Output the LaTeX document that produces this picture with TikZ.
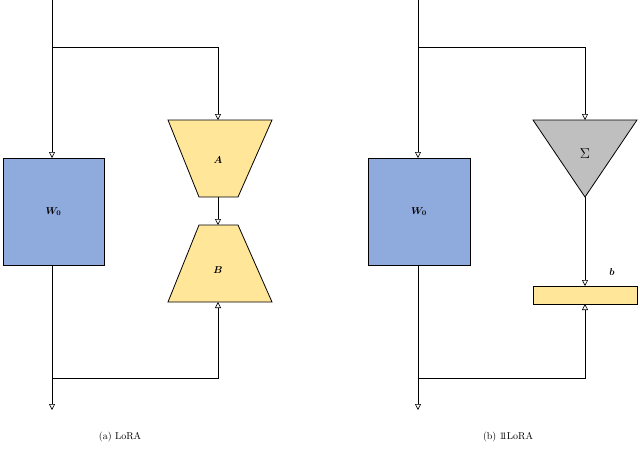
\documentclass[tikz,border=0pt]{standalone}
\usepackage{amsmath}
\usetikzlibrary{arrows.meta}
\definecolor{wblue}{HTML}{8FAADC}
\definecolor{ly}{HTML}{FFE699}
\definecolor{gr}{HTML}{BFBFBF}
\newcommand{\myone}{\mbox{1\kern-0.28em 1}}
\begin{document}
\begin{tikzpicture}[x=1pt,y=-1pt,
  box/.style={draw,line width=0.8pt},
  ar/.style={line width=0.6pt,-{Triangle[open,length=6pt,width=6pt]}},
  ln/.style={line width=0.6pt}]
\useasboundingbox (0,0) rectangle (640,453);
% left
\draw[box,fill=wblue] (3,158) rectangle (104,265);
\node (w1) at (53.5,211.5) {$\boldsymbol{W_0}$};
\draw[ar] (52,0) -- (52,158);
\draw[ar] (52,265) -- (52,410);
\draw[ar] (52,47) -- (218,47) -- (218,120);
\draw[box,fill=ly] (168,120) -- (272,120) -- (238,197) -- (199,197) -- cycle;
\node (A) at (218,160) {$\boldsymbol{A}$};
\draw[box,fill=ly] (199,225) -- (238,225) -- (272,302) -- (168,302) -- cycle;
\node (B) at (218,270) {$\boldsymbol{B}$};
\draw[ar] (218,197) -- (218,225);
\draw[ar] (52,378) -- (218,378) -- (218,302);
\node (ca) at (120,437) {(a) LoRA};
% right
\draw[box,fill=wblue] (368,158) rectangle (470,265);
\node (w2) at (419,211.5) {$\boldsymbol{W_0}$};
\draw[ar] (418,0) -- (418,158);
\draw[ar] (418,265) -- (418,410);
\draw[ar] (418,47) -- (585,47) -- (585,120);
\draw[box,fill=gr] (533,120) -- (637,120) -- (585,197) -- cycle;
\node (S) at (585,154) {\Large$\Sigma$};
\draw[ar] (585,197) -- (585,286);
\draw[box,fill=ly] (533,286) rectangle (637,304);
\node (b) at (612,272) {$\boldsymbol{b}$};
\draw[ar] (418,378) -- (585,378) -- (585,304);
\node (cb) at (508,437) {(b) \myone LoRA};
\end{tikzpicture}
\end{document}
